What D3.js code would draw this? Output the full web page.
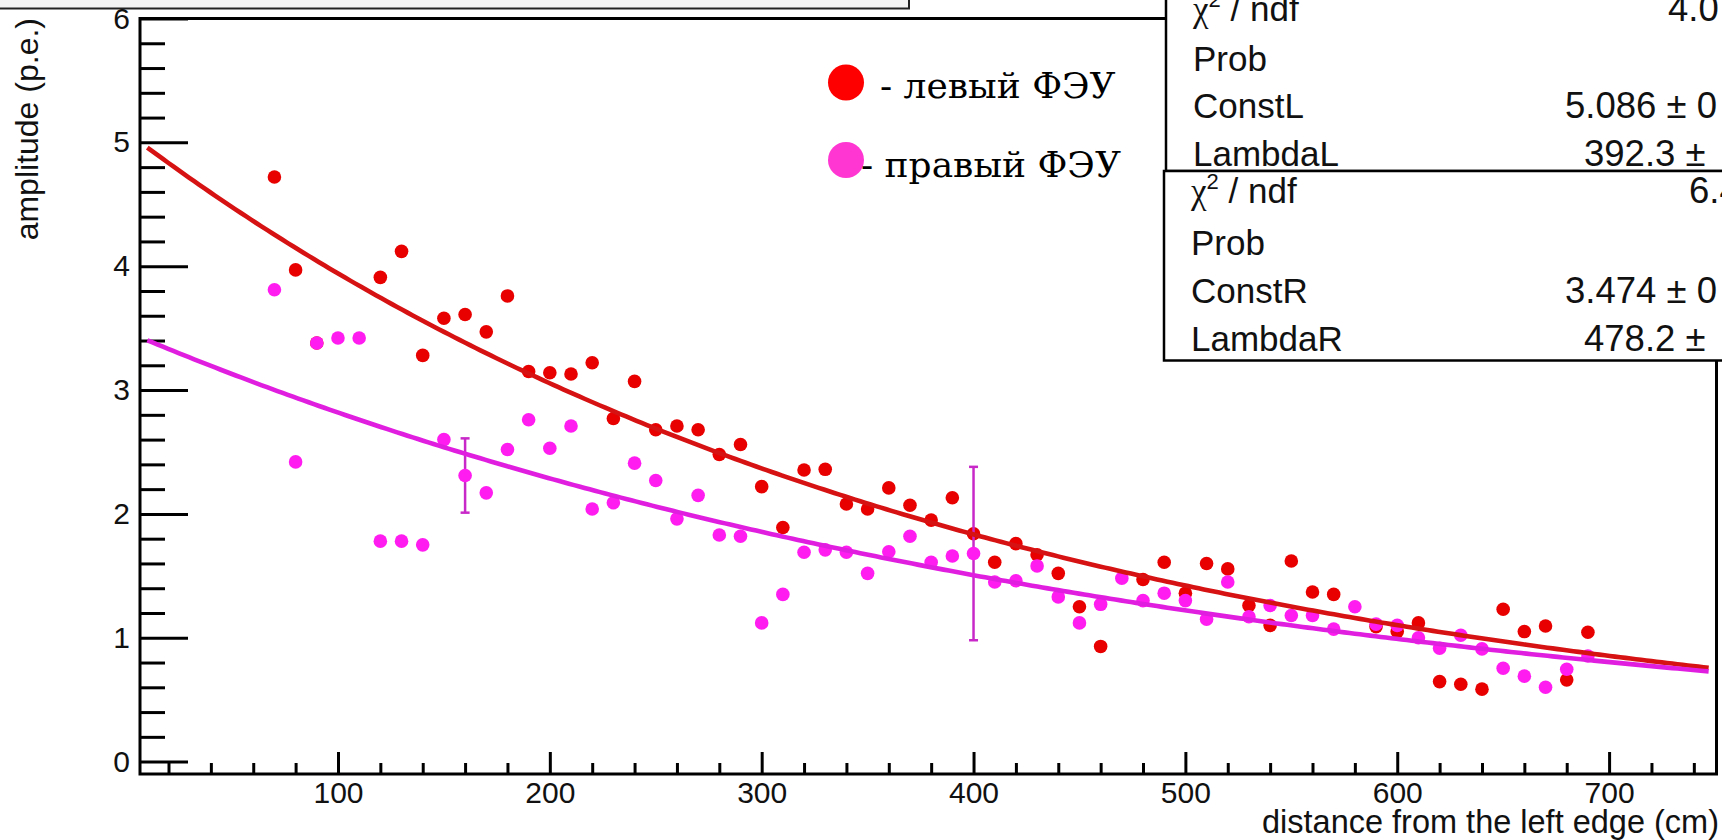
<!DOCTYPE html>
<html>
<head>
<meta charset="utf-8">
<script src="https://cdn.jsdelivr.net/npm/d3@7"></script>
<style>
  html, body { margin: 0; padding: 0; background: #ffffff; }
  svg { display: block; }
</style>
</head>
<body>
<svg id="chart" width="1722" height="840"></svg>
<script>
// Measurement positions along the bar (cm)
const positions = [70, 80, 90, 100, 110, 120, 130, 140, 150, 160, 170, 180, 190, 200,
  210, 220, 230, 240, 250, 260, 270, 280, 290, 300, 310, 320, 330, 340, 350, 360,
  370, 380, 390, 400, 410, 420, 430, 440, 450, 460, 470, 480, 490, 500, 510, 520,
  530, 540, 550, 560, 570, 580, 590, 600, 610, 620, 630, 640, 650, 660, 670, 680, 690];

// Left PMT amplitude (p.e.), null where no point
const leftAmp = [4.72, 3.97, 3.38, null, null, 3.91, 4.12, 3.28, 3.58, 3.61, 3.47, 3.76, 3.15, 3.14,
  3.13, 3.22, 2.77, 3.07, 2.68, 2.71, 2.68, 2.48, 2.56, 2.22, 1.89, 2.355, 2.36, 2.08, 2.04, 2.21,
  2.07, 1.95, 2.13, 1.84, 1.61, 1.76, 1.67, 1.52, 1.25, 0.93, null, 1.47, 1.61, 1.36, 1.60, 1.556,
  1.26, 1.10, 1.62, 1.37, 1.35, null, 1.09, 1.05, 1.12, 0.646, 0.625, 0.585, 1.23, 1.05, 1.095, 0.66, 1.045];

// Right PMT amplitude (p.e.)
const rightAmp = [3.81, 2.42, 3.38, 3.42, 3.42, 1.78, 1.78, 1.75, 2.60, 2.31, 2.17, 2.52, 2.76, 2.53,
  2.71, 2.04, 2.09, 2.41, 2.27, 1.96, 2.15, 1.83, 1.82, 1.12, 1.35, 1.69, 1.71, 1.69, 1.52, 1.695,
  1.82, 1.61, 1.66, 1.68, 1.45, 1.46, 1.58, 1.33, 1.12, 1.27, 1.48, 1.30, 1.36, 1.30, 1.15, 1.45,
  1.17, 1.26, 1.18, 1.18, 1.07, 1.25, 1.11, 1.10, 1.00, 0.915, 1.02, 0.91, 0.754, 0.69, 0.60, 0.746, 0.853];

// Error bars drawn on the right PMT graph
const errPositions = [160, 400];
const errHalfWidths = [0.30, 0.70];

// Exponential fit parameters: A * exp(-x / lambda)
const constL = 5.086, lambdaL = 392.3;
const constR = 3.474, lambdaR = 478.2;
const fitRange = [10, 747];

// Axis ticks
const xMajorTicks = [100, 200, 300, 400, 500, 600, 700];
const xMinorTicks = d3.range(20, 751, 20).filter(v => v % 100 !== 0);
const yMajorTicks = [0, 1, 2, 3, 4, 5, 6];
const yMinorTicks = d3.range(0, 30).map(i => +(i * 0.2).toFixed(1)).filter(v => Math.abs(v - Math.round(v)) > 1e-6);

// Stats box rows
const statsLeftLabels = ["Prob", "ConstL", "LambdaL"];
const statsLeftValues = ["4.0", "", "5.086 \u00b1\u00a00", "392.3 \u00b1"];
const statsRightLabels = ["Prob", "ConstR", "LambdaR"];
const statsRightValues = ["6.4", "", "3.474 \u00b1\u00a00", "478.2 \u00b1"];

// Legend entries
const legendLabels = ["- левый ФЭУ", "- правый ФЭУ"];

const svg = d3.select("#chart");
const SANS = "'Liberation Sans', Arial, sans-serif";

const frame = { left: 140, right: 1716.5, top: 18.5, bottom: 774 };
const x = d3.scaleLinear().domain([6.55, 750.7]).range([frame.left, frame.right]);
const y = d3.scaleLinear().domain([-0.1, 6]).range([frame.bottom, frame.top]);

// Title pad (partially off-canvas)
svg.append("rect")
  .attr("x", -10).attr("y", -10).attr("width", 919).attr("height", 18.5)
  .attr("fill", "#f3f3f3").attr("stroke", "#222").attr("stroke-width", 2);

// Axes: ticks point inward, labels outside
const xAxisMajor = d3.axisBottom(x).tickValues(xMajorTicks).tickSize(-22).tickPadding(8).tickFormat(d3.format("d"));
const xAxisMinor = d3.axisBottom(x).tickValues(xMinorTicks).tickSize(-11).tickFormat("");
const yAxisMajor = d3.axisLeft(y).tickValues(yMajorTicks).tickSize(-48).tickPadding(10).tickFormat(d3.format("d"));
const yAxisMinor = d3.axisLeft(y).tickValues(yMinorTicks).tickSize(-25).tickFormat("");

function styleAxis(g) {
  g.select(".domain").remove();
  g.selectAll(".tick line").attr("stroke", "#000").attr("stroke-width", 3);
  g.selectAll(".tick text").attr("fill", "#111").style("font-family", SANS).style("font-size", "30px");
}

svg.append("g").attr("transform", `translate(0,${frame.bottom})`).call(xAxisMinor).call(styleAxis);
svg.append("g").attr("transform", `translate(0,${frame.bottom})`).call(xAxisMajor).call(styleAxis);
svg.append("g").attr("transform", `translate(${frame.left},0)`).call(yAxisMinor).call(styleAxis);
svg.append("g").attr("transform", `translate(${frame.left},0)`).call(yAxisMajor).call(styleAxis);

// Frame
svg.append("rect")
  .attr("x", frame.left).attr("y", frame.top)
  .attr("width", frame.right - frame.left).attr("height", frame.bottom - frame.top)
  .attr("fill", "none").attr("stroke", "#000").attr("stroke-width", 3);

// Axis titles
svg.append("text")
  .attr("transform", `translate(38,18) rotate(-90)`)
  .attr("text-anchor", "end")
  .style("font-family", SANS).style("font-size", "32px").attr("fill", "#111")
  .text("amplitude (p.e.)");

svg.append("text")
  .attr("x", 1719).attr("y", 833)
  .attr("text-anchor", "end")
  .style("font-family", SANS).style("font-size", "32.5px").attr("fill", "#111")
  .text("distance from the left edge (cm)");

// Data
const leftPts = positions.map((p, i) => ({ x: p, v: leftAmp[i] })).filter(d => d.v !== null);
const rightPts = positions.map((p, i) => ({ x: p, v: rightAmp[i] })).filter(d => d.v !== null);
const errPts = errPositions.map((p, i) => ({ x: p, v: rightAmp[positions.indexOf(p)], e: errHalfWidths[i] }));

const plot = svg.append("g");
const R = 6.8;

plot.selectAll("circle.left").data(leftPts).join("circle")
  .attr("class", "left")
  .attr("cx", d => x(d.x)).attr("cy", d => y(d.v)).attr("r", R)
  .attr("fill", "#e80000");

const errColor = "#c828c8";
const eb = plot.selectAll("g.err").data(errPts).join("g").attr("class", "err");
eb.append("line")
  .attr("x1", d => x(d.x)).attr("x2", d => x(d.x))
  .attr("y1", d => y(d.v - d.e)).attr("y2", d => y(d.v + d.e))
  .attr("stroke", errColor).attr("stroke-width", 2.5);
eb.append("line")
  .attr("x1", d => x(d.x) - 4.5).attr("x2", d => x(d.x) + 4.5)
  .attr("y1", d => y(d.v + d.e)).attr("y2", d => y(d.v + d.e))
  .attr("stroke", errColor).attr("stroke-width", 2.5);
eb.append("line")
  .attr("x1", d => x(d.x) - 4.5).attr("x2", d => x(d.x) + 4.5)
  .attr("y1", d => y(d.v - d.e)).attr("y2", d => y(d.v - d.e))
  .attr("stroke", errColor).attr("stroke-width", 2.5);

plot.selectAll("circle.right").data(rightPts).join("circle")
  .attr("class", "right")
  .attr("cx", d => x(d.x)).attr("cy", d => y(d.v)).attr("r", R)
  .attr("fill", "#ff1cf0");

// Fit curves
function fitSamples(A, lambda) {
  const n = 300;
  return d3.range(n + 1).map(i => {
    const xv = fitRange[0] + (fitRange[1] - fitRange[0]) * i / n;
    return [xv, A * Math.exp(-xv / lambda)];
  });
}
const line = d3.line().x(d => x(d[0])).y(d => y(d[1]));
plot.append("path").datum(fitSamples(constL, lambdaL))
  .attr("d", line).attr("fill", "none").attr("stroke", "#d61212").attr("stroke-width", 4.6);
plot.append("path").datum(fitSamples(constR, lambdaR))
  .attr("d", line).attr("fill", "none").attr("stroke", "#e01ee0").attr("stroke-width", 4.6);

// Legend
const legendColors = ["#ff0000", "#ff36d2"];
const legendDotY = [82.5, 160];
const legendTextX = [880, 861];
const legendTextY = [98, 177];
legendLabels.forEach((lab, i) => {
  svg.append("circle").attr("cx", 846).attr("cy", legendDotY[i]).attr("r", 18).attr("fill", legendColors[i]);
  svg.append("text").attr("x", legendTextX[i]).attr("y", legendTextY[i])
    .style("font-family", "'DejaVu Serif', serif").style("font-size", "36px").attr("fill", "#000")
    .text(lab);
});

// Fit statistics boxes
function statsBox(bx, top, bottom, labelX, baselines, labels, values, valueX) {
  const g = svg.append("g");
  g.append("rect").attr("x", bx).attr("y", top).attr("width", 700).attr("height", bottom - top)
    .attr("fill", "#fff").attr("stroke", "#000").attr("stroke-width", 2.5);
  const chi = g.append("text").attr("x", labelX).attr("y", baselines[0])
    .style("font-family", SANS).style("font-size", "35px").attr("fill", "#111");
  chi.append("tspan").style("font-family", "'Liberation Serif', serif").text("\u03c7");
  chi.append("tspan").attr("dy", -14).style("font-size", "22px").text("2");
  chi.append("tspan").attr("dy", 14).text(" / ndf");
  labels.forEach((lab, i) => {
    g.append("text").attr("x", labelX).attr("y", baselines[i + 1])
      .style("font-family", SANS).style("font-size", "35px").attr("fill", "#111").text(lab);
  });
  values.forEach((v, i) => {
    if (!v) return;
    g.append("text").attr("x", valueX[i]).attr("y", baselines[i])
      .style("font-family", SANS).style("font-size", "36.5px").attr("fill", "#111").text(v);
  });
}
statsBox(1166, -20, 171, 1193, [21, 70.5, 118.3, 165.7], statsLeftLabels, statsLeftValues, [1668, 0, 1565, 1584]);
statsBox(1164, 171, 360.5, 1191, [203, 255, 302.7, 350.5], statsRightLabels, statsRightValues, [1689, 0, 1565, 1584]);
</script>
</body>
</html>
